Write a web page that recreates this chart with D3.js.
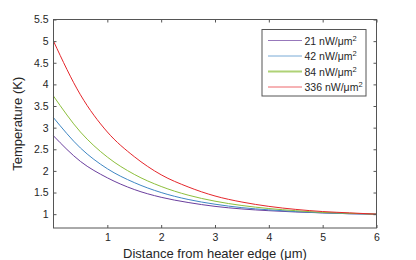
<!DOCTYPE html>
<html>
<head>
  <meta charset="utf-8">
  <script src="https://d3js.org/d3.v7.min.js"></script>
  <style>
    body { margin: 0; background: #fff; }
    text { font-family: "Liberation Sans", Arial, sans-serif; fill: #262626; }
  </style>
</head>
<body>
  <svg id="chart" width="416" height="260"></svg>
  <script>
    // distance along the wire (um)
    var distance = [0, 0.5, 1, 1.5, 2, 2.5, 3, 3.5, 4, 4.5, 5, 5.5, 6];

    // temperature readings (K) for each heater power density
    var t21  = [2.81, 2.22, 1.84, 1.57, 1.39, 1.27, 1.18, 1.12, 1.08, 1.05, 1.03, 1.01, 1.0];
    var t42  = [3.23, 2.53, 2.05, 1.73, 1.50, 1.34, 1.23, 1.15, 1.10, 1.06, 1.03, 1.01, 1.0];
    var t84  = [3.73, 2.90, 2.32, 1.92, 1.64, 1.44, 1.30, 1.20, 1.13, 1.08, 1.04, 1.02, 1.0];
    var t336 = [5.00, 3.76, 2.90, 2.33, 1.91, 1.63, 1.42, 1.28, 1.18, 1.11, 1.06, 1.03, 1.0];

    var powers = ["21", "42", "84", "336"];
    var colors = ["#6b3f9e", "#3f87c4", "#8dbf3c", "#e5262b"];
    var series = [t21, t42, t84, t336];

    var xTicks = [1, 2, 3, 4, 5, 6];
    var yTicks = [1, 1.5, 2, 2.5, 3, 3.5, 4, 4.5, 5, 5.5];

    var margin = { top: 19.5, left: 53.5, bottom: 32, right: 39.5 };
    var svg = d3.select("#chart");
    var width = +svg.attr("width") - margin.left - margin.right;
    var height = +svg.attr("height") - margin.top - margin.bottom;

    var x = d3.scaleLinear().domain([0, 6]).range([margin.left, margin.left + width]);
    var y = d3.scaleLinear().domain([0.68, 5.5]).range([margin.top + height, margin.top]);

    var axisColor = "#555";

    // curves
    var line = d3.line()
      .x(function(d, i) { return x(distance[i]); })
      .y(function(d) { return y(d); })
      .curve(d3.curveMonotoneX);

    svg.append("g").selectAll("path")
      .data(series)
      .enter().append("path")
      .attr("d", line)
      .attr("fill", "none")
      .attr("stroke", function(d, i) { return colors[i]; })
      .attr("stroke-width", 1);

    // axes, ticks pointing inward like the original
    function styleAxis(g) {
      g.select(".domain").remove();
      g.selectAll(".tick line").attr("stroke", axisColor);
      g.selectAll(".tick text").attr("fill", "#262626")
        .style("font-size", "10.5px")
        .style("font-family", "Liberation Sans, Arial, sans-serif");
    }

    svg.append("g")
      .attr("transform", `translate(0, ${margin.top + height})`)
      .call(d3.axisBottom(x).tickValues(xTicks).tickFormat(d3.format("d"))
        .tickSizeInner(-3).tickPadding(6))
      .call(styleAxis);

    svg.append("g")
      .attr("transform", `translate(0, ${margin.top})`)
      .call(d3.axisTop(x).tickValues(xTicks).tickFormat("").tickSizeInner(-3))
      .call(styleAxis);

    svg.append("g")
      .attr("transform", `translate(${margin.left}, 0)`)
      .call(d3.axisLeft(y).tickValues(yTicks).tickFormat(d3.format("~g"))
        .tickSizeInner(-3).tickPadding(5))
      .call(styleAxis);

    svg.append("g")
      .attr("transform", `translate(${margin.left + width}, 0)`)
      .call(d3.axisRight(y).tickValues(yTicks).tickFormat("").tickSizeInner(-3))
      .call(styleAxis);

    // box
    svg.append("rect")
      .attr("x", margin.left).attr("y", margin.top)
      .attr("width", width).attr("height", height)
      .attr("fill", "none").attr("stroke", axisColor).attr("stroke-width", 1);

    // axis titles
    svg.append("text")
      .attr("x", margin.left + width / 2)
      .attr("y", 257.5)
      .attr("text-anchor", "middle")
      .style("font-size", "13px")
      .text("Distance from heater edge (\u03bcm)");

    svg.append("text")
      .attr("transform", `translate(22, ${margin.top + height / 2}) rotate(-90)`)
      .attr("text-anchor", "middle")
      .style("font-size", "13px")
      .text("Temperature (K)");

    // legend
    var legend = svg.append("g").attr("transform", "translate(262, 29.5)");
    legend.append("rect")
      .attr("width", 104).attr("height", 66.5)
      .attr("fill", "#fff").attr("stroke", axisColor).attr("stroke-width", 1);

    var rows = legend.selectAll(".row")
      .data(powers)
      .enter().append("g")
      .attr("class", "row")
      .attr("transform", function(d, i) { return `translate(0, ${11 + i * 15.5})`; });

    rows.append("line")
      .attr("x1", 6).attr("x2", 40)
      .attr("stroke", function(d, i) { return colors[i]; })
      .attr("stroke-opacity", 0.7)
      .attr("stroke-width", function(d, i) { return i === 2 ? 2 : 1; });

    var label = rows.append("text")
      .attr("x", 42.5).attr("y", 4)
      .style("font-size", "10.5px");
    label.append("tspan").text(function(d) { return d + " nW/\u03bcm"; });
    label.append("tspan").attr("dy", -4).style("font-size", "7.5px").text("2");
  </script>
</body>
</html>
